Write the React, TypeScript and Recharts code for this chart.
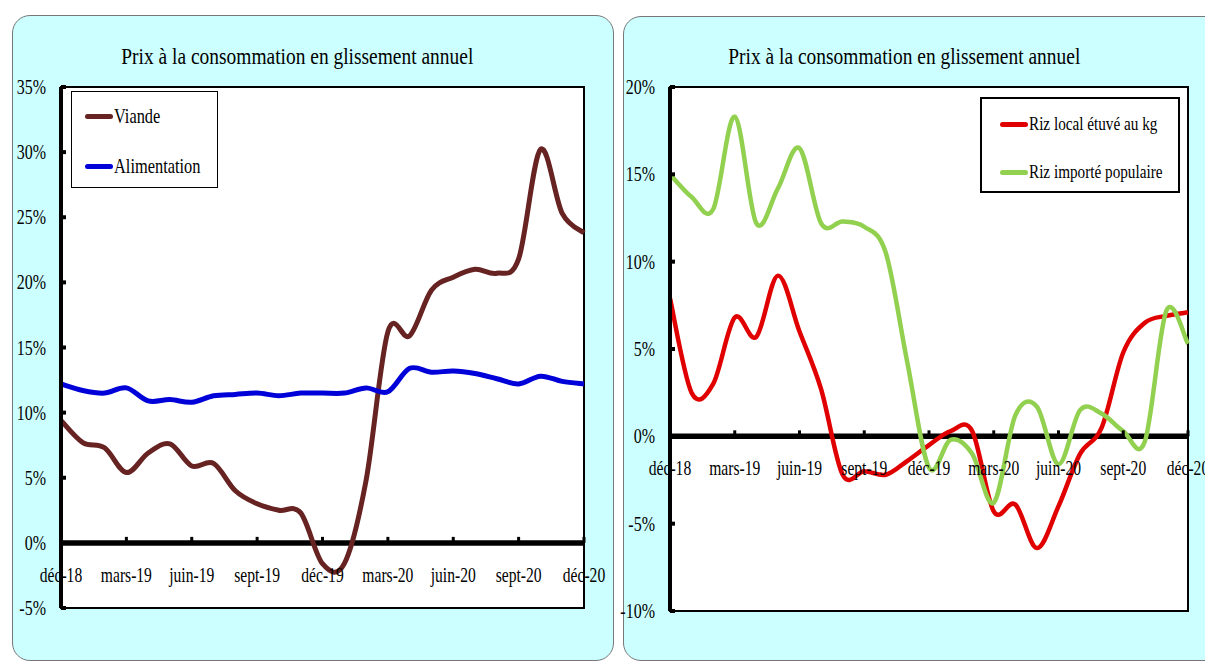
import React from 'react';
import { LineChart, Line, XAxis, YAxis, ReferenceArea, ReferenceLine } from 'recharts';

const months = [
  'déc-18', 'janv-19', 'févr-19', 'mars-19', 'avr-19', 'mai-19', 'juin-19', 'juil-19', 'août-19',
  'sept-19', 'oct-19', 'nov-19', 'déc-19', 'janv-20', 'févr-20', 'mars-20', 'avr-20', 'mai-20',
  'juin-20', 'juil-20', 'août-20', 'sept-20', 'oct-20', 'nov-20', 'déc-20',
];

// glissement annuel, en %
const viande = [9.4, 7.7, 7.3, 5.4, 6.9, 7.6, 5.9, 6.1, 4.0, 3.0, 2.5, 2.3, -1.6, -1.6, 4.8, 16.2, 15.9, 19.4, 20.4, 21.0, 20.7, 21.8, 30.2, 25.3, 23.8];
const alimentation = [12.2, 11.7, 11.5, 11.9, 10.9, 11.0, 10.8, 11.3, 11.4, 11.5, 11.3, 11.5, 11.5, 11.5, 11.9, 11.6, 13.4, 13.1, 13.2, 13.0, 12.6, 12.2, 12.8, 12.4, 12.2];
const rizLocal = [7.9, 2.5, 3.0, 6.8, 5.7, 9.2, 6.0, 2.7, -2.2, -2.0, -2.2, -1.4, -0.5, 0.3, 0.3, -4.3, -3.9, -6.4, -4.0, -1.0, 0.5, 4.8, 6.5, 6.9, 7.1];
const rizImporte = [15.0, 13.7, 13.0, 18.3, 12.2, 14.2, 16.5, 12.2, 12.3, 12.0, 10.5, 4.2, -1.8, -0.2, -1.0, -3.8, 1.2, 1.7, -1.6, 1.5, 1.3, 0.3, -0.3, 7.2, 5.3];

const leftTicks = [-5, 0, 5, 10, 15, 20, 25, 30, 35];
const rightTicks = [-10, -5, 0, 5, 10, 15, 20];

const TITLE = 'Prix à la consommation en glissement annuel';
const FONT = '"Liberation Serif", "Times New Roman", serif';
const SQUEEZE = 0.78;

const leftSeries = [
  { key: 'viande', name: 'Viande', color: '#672222', values: viande },
  { key: 'alimentation', name: 'Alimentation', color: '#0000D8', values: alimentation },
];
const rightSeries = [
  { key: 'rizLocal', name: 'Riz local étuvé au kg', color: '#E00000', values: rizLocal },
  { key: 'rizImporte', name: 'Riz importé populaire', color: '#92D050', values: rizImporte },
];

function buildData(series: typeof leftSeries) {
  return months.map((m, i) => {
    const row: any = { month: m };
    series.forEach(s => { row[s.key] = s.values[i]; });
    return row;
  });
}

// lissage façon Excel (Catmull-Rom)
function smoothCurve(context: any) {
  let xs: number[] = [];
  let ys: number[] = [];
  return {
    areaStart() {},
    areaEnd() {},
    lineStart() { xs = []; ys = []; },
    point(x: number, y: number) { xs.push(+x); ys.push(+y); },
    lineEnd() {
      const n = xs.length;
      if (!n) return;
      context.moveTo(xs[0], ys[0]);
      for (let i = 0; i < n - 1; i++) {
        const a = Math.max(i - 1, 0);
        const d = Math.min(i + 2, n - 1);
        context.bezierCurveTo(
          xs[i] + (xs[i + 1] - xs[a]) / 6, ys[i] + (ys[i + 1] - ys[a]) / 6,
          xs[i + 1] - (xs[d] - xs[i]) / 6, ys[i + 1] - (ys[d] - ys[i]) / 6,
          xs[i + 1], ys[i + 1],
        );
      }
    },
  };
}

function YTick({ x, y, payload }: any) {
  return (
    <g>
      <line x1={x} x2={x + 5} y1={y} y2={y} stroke="#000" strokeWidth={4} />
      <text transform={`translate(${x - 15},${y + 7}) scale(${SQUEEZE},1)`} textAnchor="end"
        fontFamily={FONT} fontSize={20.5} fill="#000">{payload.value}%</text>
    </g>
  );
}

function makeXTick(zeroOff: number) {
  return ({ x, y, payload }: any) => (
    <g>
      <line x1={x} x2={x} y1={y - zeroOff} y2={y - zeroOff - 6} stroke="#000" strokeWidth={3} />
      <text transform={`translate(${x},${y - zeroOff + 39}) scale(${SQUEEZE},1)`} textAnchor="middle"
        fontFamily={FONT} fontSize={20} fill="#000">{payload.value}</text>
    </g>
  );
}

function LegendBox({ items, box, rows, lineX, lineW, textX, fontSize, border }: any) {
  return (
    <div style={{
      position: 'absolute', left: box[0], top: box[1], width: box[2], height: box[3],
      boxSizing: 'border-box', border: `${border}px solid #000`, background: '#fff',
    }}>
      {items.map((s: any, i: number) => (
        <div key={s.key} style={{ position: 'absolute', left: 0, top: rows[i] - 12, height: 24, width: '100%' }}>
          <span style={{
            position: 'absolute', left: lineX, top: 10, width: lineW, height: 5,
            borderRadius: 3, background: s.color,
          }} />
          <span style={{
            position: 'absolute', left: textX, top: 0, lineHeight: '24px', whiteSpace: 'nowrap',
            fontFamily: FONT, fontSize, color: '#000',
            transform: `scaleX(${SQUEEZE})`, transformOrigin: 'left center',
          }}>{s.name}</span>
        </div>
      ))}
    </div>
  );
}

function PriceChart({ series, domain, ticks, pos, margin, yWidth, strokeW }: any) {
  const data = buildData(series);
  const plotH = pos.height - margin.top - margin.bottom - 20;
  const zeroOff = plotH * (0 - domain[0]) / (domain[1] - domain[0]);
  return (
    <div style={{ position: 'absolute', left: pos.left, top: 0 }}>
      <LineChart width={pos.width} height={pos.height} data={data} margin={margin}>
        <ReferenceArea x1={months[0]} x2={months[months.length - 1]} y1={domain[0]} y2={domain[1]}
          fill="#fff" fillOpacity={1} stroke="#000" strokeWidth={2} />
        <XAxis dataKey="month" interval={2} axisLine={false} tickLine={false} tickSize={0}
          tickMargin={0} height={20} tick={makeXTick(zeroOff)} />
        <YAxis type="number" domain={domain} ticks={ticks} interval={0} width={yWidth}
          axisLine={{ stroke: '#000', strokeWidth: 4 }} tickLine={false} tickSize={0} tickMargin={0}
          tick={YTick} />
        <ReferenceLine y={0} stroke="#000" strokeWidth={5.5} />
        {series.map((s: any) => (
          <Line key={s.key} dataKey={s.key} name={s.name} type={smoothCurve as any} stroke={s.color}
            strokeWidth={strokeW} dot={false} activeDot={false} isAnimationActive={false} />
        ))}
      </LineChart>
    </div>
  );
}

function Title({ cx }: { cx: number }) {
  return (
    <div style={{
      position: 'absolute', left: cx - 300, top: 44, width: 600, textAlign: 'center',
      lineHeight: '24px', fontFamily: FONT, fontSize: 24, color: '#000',
    }}>
      <span style={{ display: 'inline-block', transform: 'scaleX(0.81)', whiteSpace: 'nowrap' }}>{TITLE}</span>
    </div>
  );
}

export default function App() {
  const panel = {
    position: 'absolute' as const, boxSizing: 'border-box' as const, background: '#CCFFFF',
    border: '1px solid #777', borderRadius: 18,
  };
  return (
    <div style={{ position: 'absolute', left: 0, top: 0, width: 1205, height: 662, overflow: 'hidden', background: '#fff' }}>
      <div style={{ ...panel, left: 12, top: 15, width: 602, height: 646 }} />
      <div style={{ ...panel, left: 623, top: 16, width: 620, height: 645 }} />
      <Title cx={297} />
      <Title cx={904} />
      <PriceChart series={leftSeries} domain={[-5, 35]} ticks={leftTicks} yWidth={50} strokeW={5}
        pos={{ left: 0, width: 613, height: 662 }} margin={{ top: 87, right: 29, bottom: 34, left: 11 }} />
      <PriceChart series={rightSeries} domain={[-10, 20]} ticks={rightTicks} yWidth={47} strokeW={4.5}
        pos={{ left: 613, width: 592, height: 662 }} margin={{ top: 87, right: 17, bottom: 31, left: 10 }} />
      <LegendBox items={leftSeries} box={[71, 91, 147, 97]} rows={[24, 74]} lineX={13} lineW={28}
        textX={42} fontSize={21} border={1.5} />
      <LegendBox items={rightSeries} box={[980, 97, 200, 96]} rows={[25, 73]} lineX={18} lineW={28}
        textX={47} fontSize={19.5} border={2} />
    </div>
  );
}
